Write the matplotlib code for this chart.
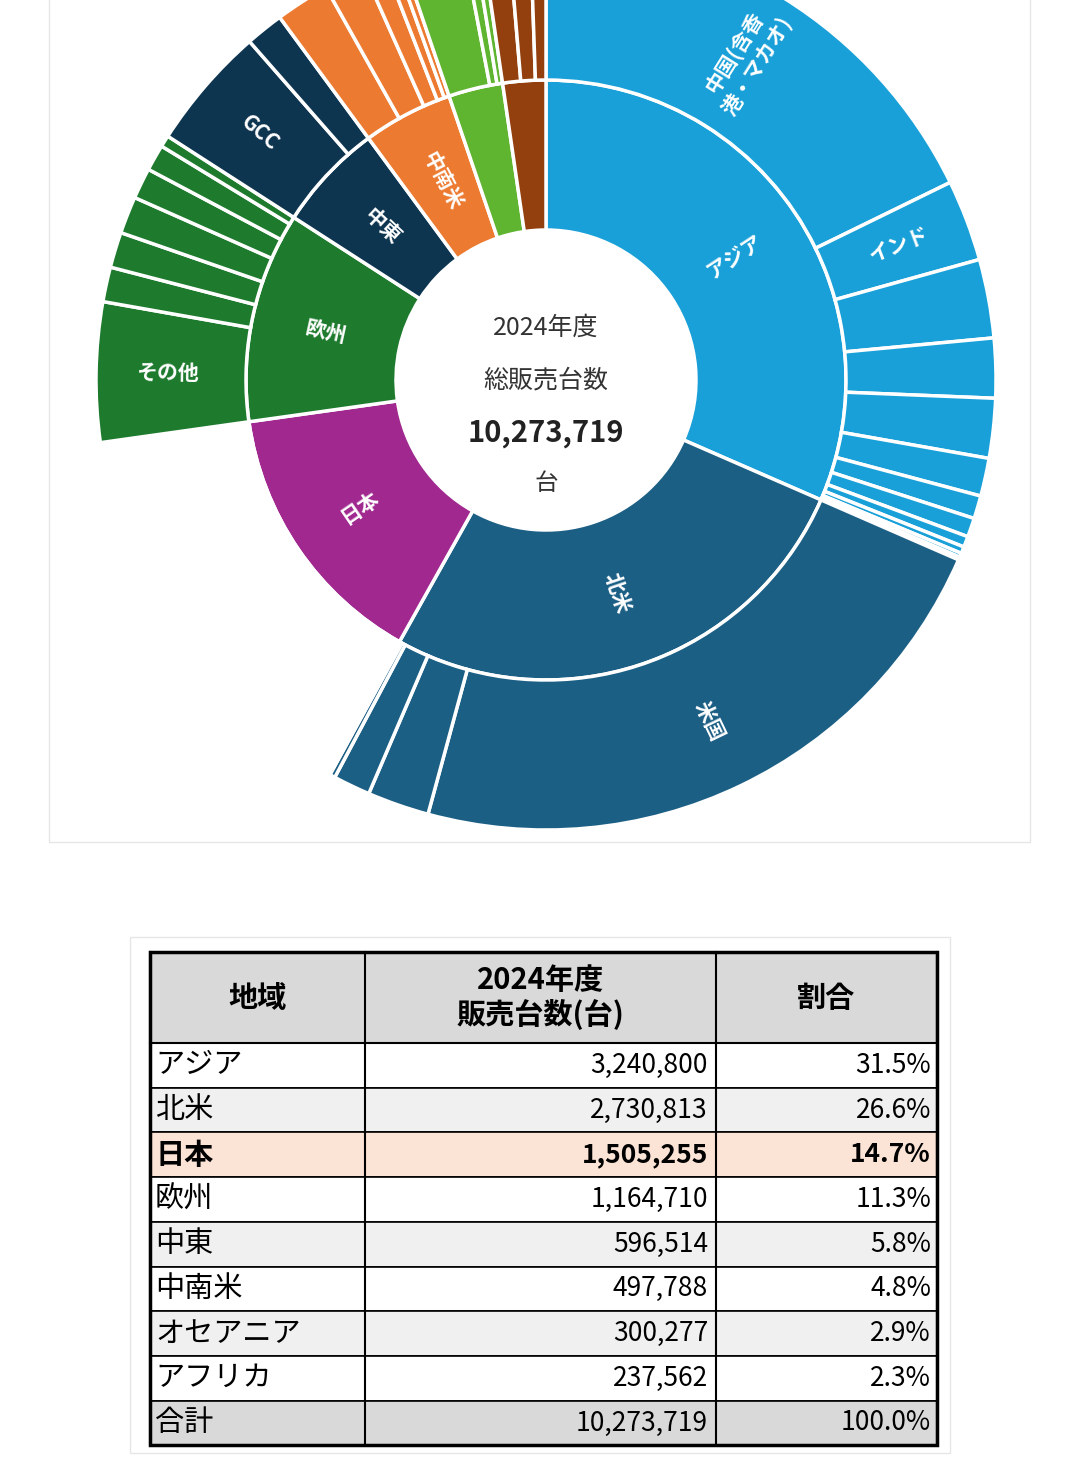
import numpy as np
import matplotlib
matplotlib.use("Agg")
import matplotlib.pyplot as plt
from matplotlib.patches import Rectangle

plt.rcParams['font.family'] = ['Noto Sans CJK JP', 'DejaVu Sans']

regions = ["アジア", "北米", "日本", "欧州", "中東", "中南米", "オセアニア", "アフリカ"]
region_values = [3240800, 2730813, 1505255, 1164710, 596514, 497788, 300277, 237562]
region_colors = ["#1aa0d8", "#1c5f85", "#a0288f", "#1e7b2e", "#0e3550", "#ec7a30", "#5fb430", "#93400e"]
ring_labels = ["アジア", "北米", "日本", "欧州", "中東", "中南米", "", ""]

# sub-region breakdown (estimated)
sub_values = [
    [1825000, 300000, 290000, 220000, 220000, 140000, 85000, 70000, 40000, 25000, 15000, 10800],
    [2330000, 228000, 137000, 20000, 10000, 5813],
    [1505255],
    [515000, 128000, 131000, 137000, 114000, 97000, 42710],
    [456000, 140514],
    [200000, 150000, 80000, 40000, 27788],
    [230000, 40000, 30277],
    [100000, 80000, 57562],
]
sub_labels = {(0, 0): "中国(含香\n港・マカオ)", (0, 1): "インド", (1, 0): "米国", (3, 0): "その他", (4, 0): "GCC"}

total = 10273719
pct = ["31.5%", "26.6%", "14.7%", "11.3%", "5.8%", "4.8%", "2.9%", "2.3%"]

W, H = 1080, 1468
fig = plt.figure(figsize=(W / 100, H / 100), dpi=100)
fig.patch.set_facecolor("white")

bg = fig.add_axes([0, 0, 1, 1])
bg.set_xlim(0, W); bg.set_ylim(H, 0); bg.axis("off")
bg.add_patch(Rectangle((49, -10), 981, 852, fill=False, ec="#e6e6e6", lw=1))

cx, cy, R = 546, 380, 450
ax = fig.add_axes([(cx - R) / W, 1 - (cy + R) / H, 2 * R / W, 2 * R / H])
ax.patch.set_visible(False)

outer_vals, outer_cols = [], []
for i, sv in enumerate(sub_values):
    for v in sv:
        outer_vals.append(v)
        outer_cols.append("none" if regions[i] == "日本" else region_colors[i])

ax.pie(region_values, radius=2 / 3, startangle=90, counterclock=False, colors=region_colors,
       wedgeprops=dict(width=1 / 3, edgecolor="white", linewidth=2.5))
ax.pie(outer_vals, radius=1, startangle=90, counterclock=False, colors=outer_cols,
       wedgeprops=dict(width=1 / 3, edgecolor="white", linewidth=2.5))
ax.set_xlim(-1, 1); ax.set_ylim(-1, 1); ax.set_aspect("equal"); ax.axis("off")

def place(label, start, frac, r, size):
    mid = 90 - 360 * (start + frac / 2)
    rad = np.deg2rad(mid)
    rot = mid
    a = (mid + 360) % 360
    if 90 < a < 270:
        rot = mid + 180
    ax.text(r * np.cos(rad), r * np.sin(rad), label, rotation=rot, rotation_mode="anchor",
            ha="center", va="center", color="white", fontsize=size, fontweight="bold", linespacing=1.3)

cum = 0
for i, v in enumerate(region_values):
    if ring_labels[i]:
        place(ring_labels[i], cum / total, v / total, 0.5, 15)
    c2 = cum
    if regions[i] != "日本":
        for j, s in enumerate(sub_values[i]):
            if (i, j) in sub_labels:
                place(sub_labels[(i, j)], c2 / total, s / total, 0.84, 15)
            c2 += s
    cum += v

ax.text(0, 0.115, "2024年度", ha="center", va="center", fontsize=18, color="#333333")
ax.text(0, 0.0, "総販売台数", ha="center", va="center", fontsize=18, color="#333333")
ax.text(0, -0.118, "10,273,719", ha="center", va="center", fontsize=21, fontweight="bold", color="#222222")
ax.text(0, -0.23, "台", ha="center", va="center", fontsize=17, color="#333333")

tb = fig.add_axes([0, 0, 1, 1])
tb.set_xlim(0, W); tb.set_ylim(H, 0); tb.axis("off"); tb.patch.set_visible(False)
tb.add_patch(Rectangle((130, 937), 820, 516, fill=False, ec="#e6e6e6", lw=1))
xs = [150, 365, 716, 937]
top, hh, rh = 952, 91, 44.7
tb.add_patch(Rectangle((xs[0], top), xs[3] - xs[0], hh, fc="#d9d9d9", ec="none"))
rows = regions + ["合計"]
vals = [f"{v:,}" for v in region_values] + [f"{total:,}"]
pcts = pct + ["100.0%"]
fills = ["white", "#f0f0f0", "#fbe3d6", "white", "#f0f0f0", "white", "#f0f0f0", "white", "#d9d9d9"]
for k, name in enumerate(rows):
    y0 = top + hh + k * rh
    tb.add_patch(Rectangle((xs[0], y0), xs[3] - xs[0], rh, fc=fills[k], ec="black", lw=1.2))
    bold = "bold" if name == "日本" else "normal"
    tb.text(xs[0] + 5, y0 + rh / 2, name, ha="left", va="center", fontsize=21, fontweight=bold)
    tb.text(xs[2] - 8, y0 + rh / 2, vals[k], ha="right", va="center", fontsize=19, fontweight=bold)
    tb.text(xs[3] - 6, y0 + rh / 2, pcts[k], ha="right", va="center", fontsize=19, fontweight=bold)
for x in xs:
    tb.plot([x, x], [top, top + hh + 9 * rh], color="black", lw=1.5)
tb.plot([xs[0], xs[3]], [top + hh, top + hh], color="black", lw=1.5)
tb.add_patch(Rectangle((xs[0], top), xs[3] - xs[0], hh + 9 * rh, fill=False, ec="black", lw=2.5))
tb.text((xs[0] + xs[1]) / 2, top + hh / 2, "地域", ha="center", va="center", fontsize=21, fontweight="bold")
tb.text((xs[1] + xs[2]) / 2, top + hh / 2, "2024年度\n販売台数(台)", ha="center", va="center", fontsize=21, fontweight="bold", linespacing=1.2)
tb.text((xs[2] + xs[3]) / 2, top + hh / 2, "割合", ha="center", va="center", fontsize=21, fontweight="bold")

fig.savefig("out.png", dpi=100)
